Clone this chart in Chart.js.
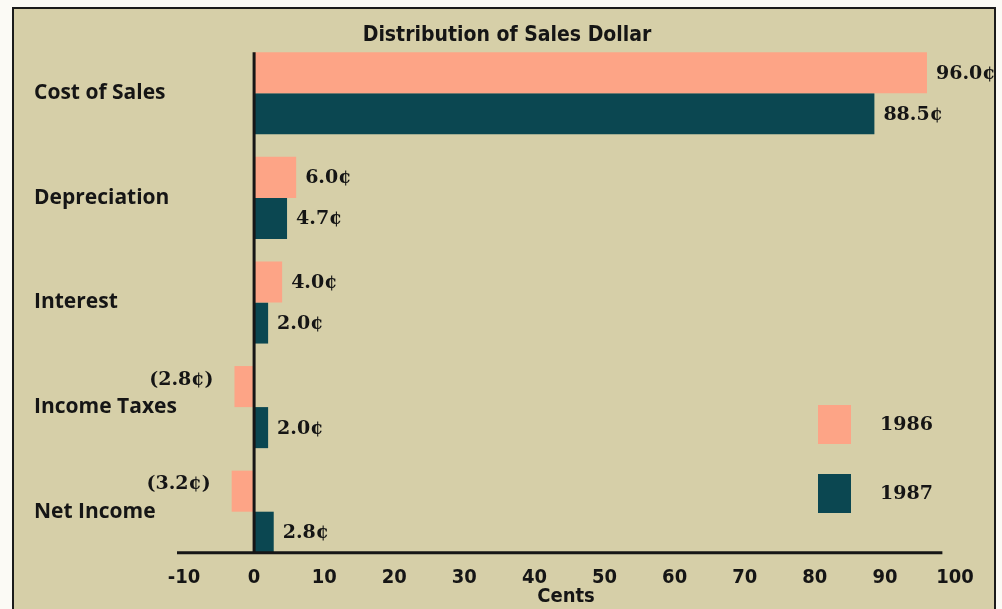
<!DOCTYPE html>
<html><head><meta charset="utf-8">
<script src="https://cdn.jsdelivr.net/npm/chart.js@4.4.1/dist/chart.umd.min.js"></script>
<style>html,body{margin:0;padding:0;background:#fbfaf5;}canvas{display:block;}</style>
</head><body>
<canvas id="c" width="1002" height="609"></canvas>
<script>
const categories = ['Cost of Sales', 'Depreciation', 'Interest', 'Income Taxes', 'Net Income'];
const series1986 = [96.0, 6.0, 4.0, -2.8, -3.2];
const series1987 = [88.5, 4.7, 2.0, 2.0, 2.8];
const seriesNames = ['1986', '1987'];
const xTickValues = [-10, 0, 10, 20, 30, 40, 50, 60, 70, 80, 90, 100];
const chartTitle = 'Distribution of Sales Dollar';
const xAxisTitle = 'Cents';

const COND = "'DejaVu Sans Condensed', 'Liberation Sans Narrow', 'Roboto Condensed', 'DejaVu Sans', sans-serif";
const SERIF = "'DejaVu Serif', 'Liberation Serif', serif";
const HUMAN = "'Open Sans', Lato, sans-serif";
const INK = '#151515';
const SALMON = '#fda486';
const TEAL = '#0b4751';
const BEIGE = '#d6cfa8';

function fmt(v) {
  const s = Math.abs(v).toFixed(1) + '\u00a2';
  return v < 0 ? '(' + s + ')' : s;
}

const framePlugin = {
  id: 'frame',
  beforeDraw(chart) {
    const ctx = chart.ctx;
    ctx.save();
    ctx.fillStyle = BEIGE;
    ctx.fillRect(12, 7, 984, 610);
    ctx.strokeStyle = '#1b1b1b';
    ctx.lineWidth = 2;
    ctx.beginPath();
    ctx.moveTo(13, 612); ctx.lineTo(13, 8); ctx.lineTo(995, 8); ctx.lineTo(995, 612);
    ctx.stroke();
    // chart title
    ctx.fillStyle = INK;
    ctx.font = 'bold 21px ' + COND;
    ctx.textAlign = 'center';
    ctx.textBaseline = 'middle';
    ctx.fillText(chartTitle, 507, 36);
    ctx.restore();
  }
};

const decorPlugin = {
  id: 'decor',
  afterDatasetsDraw(chart) {
    const ctx = chart.ctx;
    const xs = chart.scales.x;
    const m0 = chart.getDatasetMeta(0);
    const m1 = chart.getDatasetMeta(1);
    const firstBar = m0.data[0];
    const lastBar = m1.data[m1.data.length - 1];
    const topY = firstBar.y - firstBar.height / 2;
    const axisY = lastBar.y + lastBar.height / 2;
    const x0 = xs.getPixelForValue(0);
    ctx.save();
    ctx.strokeStyle = '#161616';
    ctx.lineWidth = 3;
    ctx.beginPath();
    ctx.moveTo(x0, topY); ctx.lineTo(x0, axisY);
    ctx.stroke();
    ctx.beginPath();
    ctx.moveTo(chart.chartArea.left, axisY); ctx.lineTo(xs.getPixelForValue(98.2), axisY);
    ctx.stroke();

    // value labels
    ctx.fillStyle = INK;
    ctx.font = 'bold 19px ' + SERIF;
    ctx.textBaseline = 'middle';
    [m0, m1].forEach((meta, di) => {
      const vals = chart.data.datasets[di].data;
      meta.data.forEach((bar, i) => {
        const v = vals[i];
        if (v >= 0) {
          ctx.textAlign = 'left';
          ctx.fillText(fmt(v), bar.x + 9, bar.y + 1);
        } else {
          ctx.textAlign = 'right';
          ctx.fillText(fmt(v), bar.x - 21, bar.y - 7);
        }
      });
    });

    // legend
    const lx = 818, tops = [405, 474];
    chart.data.datasets.forEach((ds, i) => {
      ctx.fillStyle = ds.backgroundColor;
      ctx.fillRect(lx, tops[i], 33, 39);
      ctx.fillStyle = INK;
      ctx.textAlign = 'left';
      ctx.font = 'bold 19px ' + SERIF;
      ctx.fillText(ds.label, 880, tops[i] + 20);
    });
    ctx.restore();
  }
};

new Chart(document.getElementById('c'), {
  type: 'bar',
  data: {
    labels: categories,
    datasets: [
      { label: seriesNames[0], data: series1986, backgroundColor: SALMON, categoryPercentage: 0.785, barPercentage: 1.0, borderWidth: 0 },
      { label: seriesNames[1], data: series1987, backgroundColor: TEAL, categoryPercentage: 0.785, barPercentage: 1.0, borderWidth: 0 }
    ]
  },
  options: {
    indexAxis: 'y',
    responsive: false,
    animation: false,
    devicePixelRatio: 1,
    layout: { padding: { left: 34, right: 47, top: 41, bottom: 0 } },
    plugins: {
      legend: { display: false },
      tooltip: { enabled: false },
      title: { display: false }
    },
    scales: {
      y: {
        type: 'category',
        grid: { display: false, drawTicks: false },
        border: { display: false },
        ticks: { crossAlign: 'far', color: INK, padding: 0, font: { family: HUMAN, size: 21, weight: 'bold' } },
        afterFit(scale) { scale.width = 143; }
      },
      x: {
        type: 'linear', min: -11, max: 100,
        grid: { display: false, drawTicks: false },
        border: { display: false },
        afterBuildTicks(scale) { scale.ticks = xTickValues.map(v => ({ value: v })); },
        ticks: { color: INK, padding: 4, maxRotation: 0, autoSkip: false, font: { family: COND, size: 20, weight: 'bold', lineHeight: 1 } },
        title: { display: true, text: xAxisTitle, color: INK, padding: { top: 0, bottom: 7 }, font: { family: COND, size: 20, weight: 'bold', lineHeight: 0.5 } }
      }
    }
  },
  plugins: [framePlugin, decorPlugin]
});
</script>
</body></html>
